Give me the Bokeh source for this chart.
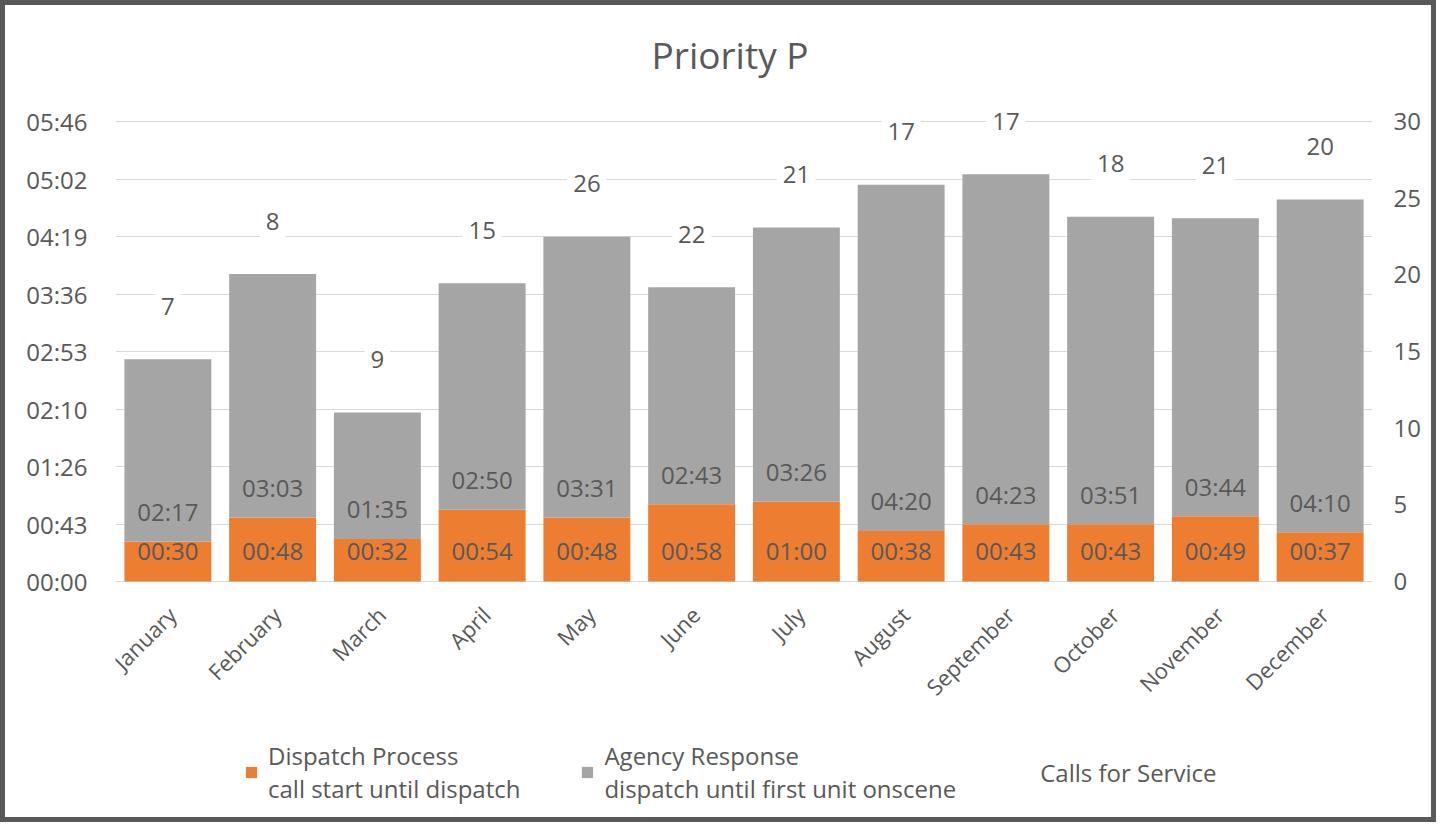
import math
from bokeh.plotting import figure
from bokeh.models import (ColumnDataSource, Range1d, LinearAxis, FixedTicker, Legend, LegendItem, FactorRange)
from bokeh.core.properties import value
from bokeh.embed import file_html
from bokeh.resources import INLINE

months = ["January", "February", "March", "April", "May", "June", "July",
          "August", "September", "October", "November", "December"]
dispatch_sec = [30, 48, 32, 54, 48, 58, 60, 38, 43, 43, 49, 37]
agency_sec = [137, 183, 95, 170, 211, 163, 206, 260, 263, 231, 224, 250]
calls = [7, 8, 9, 15, 26, 22, 21, 17, 17, 18, 21, 20]
left_tick_labels = ["00:00", "00:43", "01:26", "02:10", "02:53", "03:36", "04:19", "05:02", "05:46"]
right_ticks = [0, 5, 10, 15, 20, 25, 30]

ORANGE = "#ED7D31"
GRAY = "#A5A5A5"
TXT = "#595959"
FONT = "Open Sans"


def mmss(s):
    return "%02d:%02d" % (s // 60, s % 60)


total = [d + a for d, a in zip(dispatch_sec, agency_sec)]
src = ColumnDataSource(dict(
    month=months, dispatch=dispatch_sec, agency=agency_sec, calls=calls,
    total=total, zero=[0] * len(months),
    dlab=[mmss(v) for v in dispatch_sec], alab=[mmss(v) for v in agency_sec],
    clab=[str(c) for c in calls],
))

ymax = 345.6
cmax = 30
# the plot frame reaches below zero (month labels, legend) and a little above the top tick
below = 0.5
above = 1.05
p = figure(width=1436, height=822, x_range=FactorRange(*months),
           y_range=Range1d(-below * ymax, above * ymax),
           output_backend="svg", toolbar_location=None,
           min_border_left=110, min_border_right=69, min_border_top=93, min_border_bottom=16)
p.styles = {"border": "5px solid #595959", "box-sizing": "border-box"}
p.outline_line_color = None
p.background_fill_color = "white"
p.border_fill_color = "white"

p.title.text = "Priority P"
p.title.align = "left"
p.title.offset = 536
p.title.text_font = FONT
p.title.text_font_size = "37px"
p.title.text_font_style = "normal"
p.title.text_color = TXT
p.title.standoff = 38

rs = p.vbar_stack(["dispatch", "agency"], x="month", width=0.83, color=[ORANGE, GRAY],
                  line_color=None, source=src)

p.extra_y_ranges = {"calls": Range1d(-below * cmax, above * cmax)}
rl = p.line(x="month", y="calls", y_range_name="calls", line_alpha=0, line_color="white", source=src)

# data labels
p.text(x="month", y="zero", text="dlab", source=src, text_align="center", text_baseline="middle",
       y_offset=-31, text_font=value(FONT), text_font_size="24px", text_color=TXT)
p.text(x="month", y="dispatch", text="alab", source=src, text_align="center", text_baseline="middle",
       y_offset=-30, text_font=value(FONT), text_font_size="24px", text_color=TXT)
p.text(x="month", y="total", text="clab", source=src, text_align="center", text_baseline="middle",
       y_offset=-53, text_font=value(FONT), text_font_size="24px", text_color=TXT,
       background_fill_color="white", padding=(6, 14))

# month labels (category axis)
p.text(x="month", y="zero", text="month", source=src, angle=math.pi / 4,
       text_align="right", text_baseline="middle", x_offset=4, y_offset=29,
       text_font=value(FONT), text_font_size="22px", text_color=TXT)
p.xaxis.visible = False

# axes
yticks = [round(i * 43.2, 1) for i in range(9)]
p.yaxis.ticker = FixedTicker(ticks=yticks)
p.yaxis.major_label_overrides = {t: l for t, l in zip(yticks, left_tick_labels)}
ax = p.yaxis[0]
ax.axis_line_color = None
ax.major_tick_line_color = None
ax.minor_tick_line_color = None
ax.major_label_text_font = FONT
ax.major_label_text_font_size = "24px"
ax.major_label_text_color = TXT
ax.major_label_standoff = 22

rax = LinearAxis(y_range_name="calls", ticker=FixedTicker(ticks=right_ticks))
rax.axis_line_color = None
rax.major_tick_line_color = None
rax.minor_tick_line_color = None
rax.major_label_text_font = FONT
rax.major_label_text_font_size = "24px"
rax.major_label_text_color = TXT
rax.major_label_standoff = 15
p.add_layout(rax, "right")

p.xgrid.grid_line_color = None
p.ygrid.grid_line_color = "#D9D9D9"
p.ygrid.grid_line_width = 1
p.ygrid.ticker = FixedTicker(ticks=yticks)

legend = Legend(items=[
    LegendItem(label="Dispatch Process\ncall start until dispatch", renderers=[rs[0]]),
    LegendItem(label="Agency Response\ndispatch until first unit onscene", renderers=[rs[1]]),
    LegendItem(label="Calls for Service", renderers=[rl]),
], orientation="horizontal", location=(129, 6))
legend.label_text_font = FONT
legend.label_text_font_size = "24px"
legend.label_text_color = TXT
legend.label_text_line_height = 1.15
legend.glyph_width = 14
legend.glyph_height = 14
legend.label_standoff = 10
legend.spacing = 60
legend.padding = 0
legend.margin = 0
legend.border_line_color = None
legend.background_fill_alpha = 0
p.add_layout(legend, "center")

open("out.html", "w").write(file_html(p, INLINE))
